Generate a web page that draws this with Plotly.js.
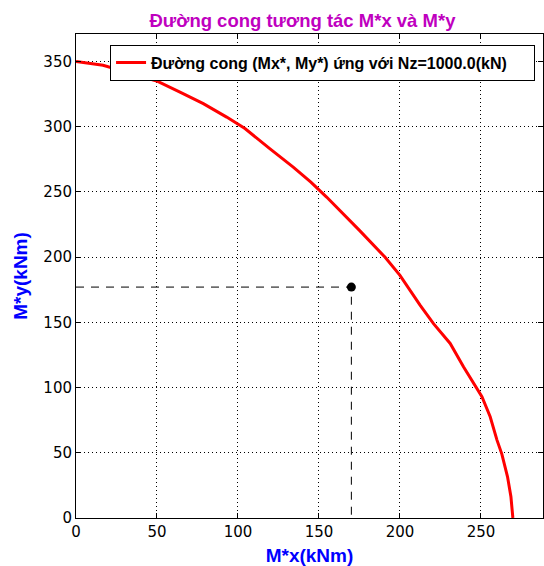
<!DOCTYPE html>
<html>
<head>
<meta charset="utf-8">
<script src="https://cdn.plot.ly/plotly-3.0.1.min.js"></script>
<style>html,body{margin:0;padding:0;background:#fff;}#chart{width:544px;height:566px;}</style>
</head>
<body>
<div id="chart"></div>
<script>
// Interaction curve (Mx*, My*) for Nz = 1000.0 kN
var curveMx = [0, 16.7, 33.3, 49.8, 64.2, 78.6, 93, 99.6, 104.3, 119.8, 134.1, 145, 154.7, 175, 190.7, 200, 212.5, 220.7, 231, 239.2, 247.5, 250.6, 255.7, 259.9, 262.9, 266.4, 268.5, 269.7];
var curveMy = [350, 347, 341, 335, 326.5, 317.6, 307.3, 302.3, 298.5, 283, 269, 257.5, 246, 220.5, 200, 186, 163, 149, 133.8, 115.9, 99.3, 92.9, 77.6, 59.7, 49, 31.6, 16.3, 0];
// Design point
var pointMx = [170];
var pointMy = [177];
var guideX = [0, pointMx[0], pointMx[0]];
var guideY = [pointMy[0], pointMy[0], 0];
var xTicks = [0, 50, 100, 150, 200, 250];
var yTicks = [0, 50, 100, 150, 200, 250, 300, 350];

var boldFont = 'Liberation Sans, Arial, sans-serif';
var traces = [
  {x: curveMx, y: curveMy, mode: 'lines', name: '<b>Đường cong (Mx*, My*) ứng với Nz=1000.0(kN)</b>&nbsp;&nbsp;&nbsp;&nbsp;&nbsp;',
   line: {color: '#ff0000', width: 3}},
  {x: guideX, y: guideY, mode: 'lines', showlegend: false, line: {color: '#000', width: 1, dash: '8px,7px'}},
  {x: pointMx, y: pointMy, mode: 'markers', showlegend: false, marker: {color: '#000', size: 9}}
];
var axisCommon = {
  showline: true, linecolor: '#000', linewidth: 1, mirror: 'ticks',
  ticks: 'inside', ticklen: 5, tickcolor: '#000',
  showgrid: true, gridcolor: '#000', griddash: '1px,3px', gridwidth: 1,
  zeroline: false,
  tickfont: {family: 'DejaVu Sans, sans-serif', size: 15, color: '#000'}
};
var layout = {
  width: 544, height: 566,
  margin: {l: 76, r: 1, t: 33.5, b: 48},
  paper_bgcolor: '#fff', plot_bgcolor: '#fff',
  title: {text: '<b>Đường cong tương tác M*x và M*y</b>', font: {family: boldFont, size: 18.5, color: '#bf00bf'},
          x: 0.556, xanchor: 'center', y: 0.963, yanchor: 'middle'},
  xaxis: Object.assign({}, axisCommon, {range: [0, 288.3], tickvals: xTicks,
    title: {text: '<b>M*x(kNm)</b>', font: {family: boldFont, size: 19, color: '#0000ff'}, standoff: 8}}),
  yaxis: Object.assign({}, axisCommon, {range: [0, 371], tickvals: yTicks,
    title: {text: '<b>M*y(kNm)</b>', font: {family: boldFont, size: 19, color: '#0000ff'}, standoff: 10}}),
  legend: {x: 0.983, xanchor: 'right', y: 0.978, yanchor: 'top', bgcolor: '#fff',
    bordercolor: '#000', borderwidth: 1,
    font: {family: boldFont, size: 16, color: '#000'}},
  showlegend: true
};
Plotly.newPlot('chart', traces, layout, {displayModeBar: false, staticPlot: true});
</script>
</body>
</html>
